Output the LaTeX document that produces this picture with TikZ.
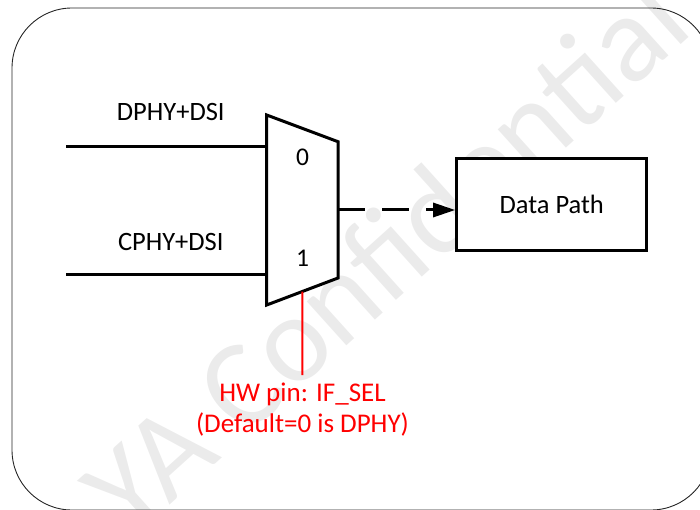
\documentclass[tikz,border=0pt]{standalone}
\usepackage{fontspec}
\setmainfont{Carlito}
\usetikzlibrary{arrows.meta,calc}
\begin{document}
\begin{tikzpicture}[x=1pt,y=-1pt,
  frame/.style={draw=black!85, line width=0.9pt, rounded corners=60pt},
  watermark/.style={text=black!8, font=\fontsize{124}{130}\selectfont, rotate=42, inner sep=0pt},
  muxline/.style={draw=black, line width=3pt, line join=miter, fill=white},
  wire/.style={draw=black, line width=3pt},
  lbl/.style={font=\fontsize{26.5}{31}\selectfont, inner sep=0pt, anchor=base},
  digit/.style={font=\fontsize{25.5}{30}\selectfont, inner sep=0pt, anchor=base},
  box/.style={draw=black, line width=3pt, fill=white, minimum width=190pt, minimum height=91.7pt, inner sep=0pt, font=\fontsize{26.5}{31}\selectfont},
  selline/.style={draw=red, line width=2pt},
  note/.style={text=red, font=\fontsize{27}{31}\selectfont, align=center, inner sep=0pt, anchor=base}]
\useasboundingbox (0,0) rectangle (700,510);
% watermark
\node[watermark] (wm) at (385,254) {YA Confidential};
% outer frame
\draw[frame] (12,8) rectangle (711,510);
% multiplexer
\coordinate (mtl) at (266.7,115);
\coordinate (mtr) at (338,141.7);
\coordinate (mbr) at (338,278);
\coordinate (mbl) at (266.7,305);
\draw[muxline] (mtl) -- (mtr) -- (mbr) -- (mbl) -- cycle;
\node[digit] (d0) at (302.7,166) {0};
\node[digit] (d1) at (302.7,266.5) {1};
% inputs
\coordinate (in0) at (266.7,146.5);
\coordinate (src0) at (66,146.5);
\coordinate (in1) at (266.7,274);
\coordinate (src1) at (66,274);
\draw[wire] (src0) -- (in0);
\draw[wire] (src1) -- (in1);
\node[lbl] (l0) at (170.8,121) {DPHY+DSI};
\node[lbl] (l1) at (170.8,251) {CPHY+DSI};
% data path
\node[box] (dp) at (551.7,204.2) {Data Path};
\coordinate (out) at (338,210);
\draw[wire, dash pattern=on 27pt off 17pt, -{Triangle[length=22pt,width=14pt]}] (out) -- (out -| dp.west);
% select pin
\coordinate (sel) at ($(mbr)!0.5!(mbl)$);
\coordinate (selend) at (302.35,375);
\draw[selline] (sel) -- (selend);
\node[note] (pin) at (302.5,432) {HW pin: IF\_SEL\\(Default=0 is DPHY)};
\end{tikzpicture}
\end{document}
